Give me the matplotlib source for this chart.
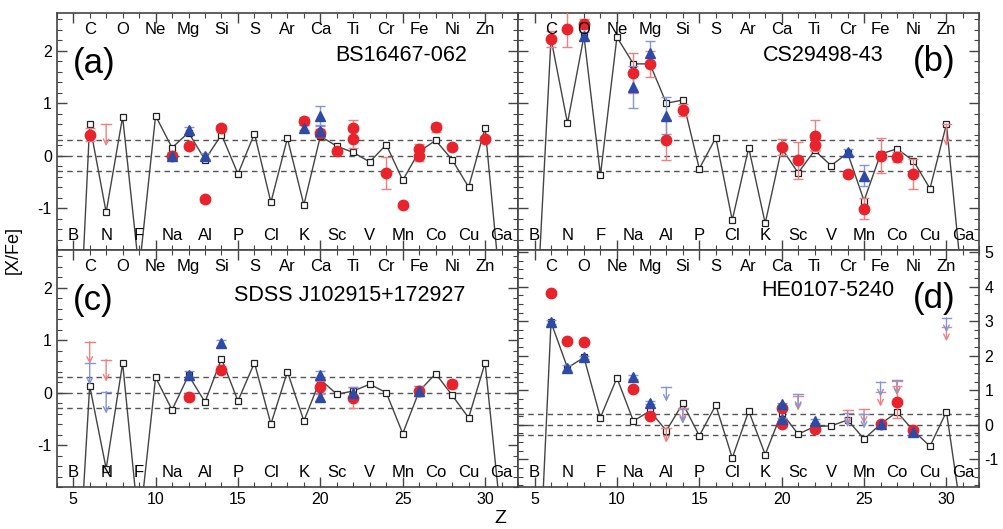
"""
[X/Fe] abundance patterns of four extremely metal-poor stars
compared with a supernova yield model (open squares).
"""

import matplotlib.pyplot as plt
from matplotlib.ticker import MultipleLocator

# ─────────────────────────────────────────────
# DATA
# ─────────────────────────────────────────────

Z = list(range(5, 32))
ELEMENTS = ["B", "C", "N", "O", "F", "Ne", "Na", "Mg", "Al", "Si", "P", "S", "Cl", "Ar",
            "K", "Ca", "Sc", "Ti", "V", "Cr", "Mn", "Fe", "Co", "Ni", "Cu", "Zn", "Ga"]

# model [X/Fe] for Z = 5 .. 31
MODEL_A = [-6.0, 0.60, -1.08, 0.74, -2.2, 0.76, 0.15, 0.44, -0.08, 0.40, -0.35, 0.42, -0.89,
           0.33, -0.94, 0.37, 0.18, 0.06, -0.12, 0.21, -0.47, 0.08, 0.29, -0.08, -0.60, 0.53, -2.8]
MODEL_B = [-3.8, 2.23, 0.62, 2.28, -0.37, 2.26, 1.75, 1.75, 1.00, 1.06, -0.25, 0.34, -1.23,
           0.15, -1.29, 0.14, -0.33, 0.10, -0.19, 0.05, -0.86, 0.03, 0.13, -0.10, -0.63, 0.60, -2.6]
MODEL_C = [-5.2, 0.13, -1.45, 0.56, -2.6, 0.29, -0.33, 0.33, -0.18, 0.65, -0.16, 0.57, -0.60,
           0.40, -0.54, 0.25, -0.03, 0.03, 0.16, 0.00, -0.78, 0.03, 0.36, -0.05, -0.48, 0.57, -2.5]
MODEL_D = [-7.3, 2.97, 1.65, 1.95, 0.21, 1.36, 0.11, 0.40, -0.17, 0.62, -0.32, 0.57, -0.96,
           0.40, -0.86, 0.35, -0.27, -0.05, -0.03, 0.14, -0.41, 0.02, 0.37, -0.17, -0.62, 0.38, -2.9]

# observations: (Z, [X/Fe], error)
A_RED = [(6, 0.40, 0.12), (11, 0.00, 0.06), (12, 0.18, 0.05), (13, -0.83, 0.05), (14, 0.52, 0.07),
         (19, 0.66, 0.08), (20, 0.43, 0.08), (21, 0.08, 0.05), (22, 0.52, 0.16), (22, 0.31, 0.16),
         (24, -0.33, 0.30), (25, -0.94, 0.04), (26, 0.12, 0.10), (26, -0.01, 0.10), (27, 0.54, 0.09),
         (28, 0.17, 0.04), (30, 0.32, 0.05)]
A_BLUE = [(11, -0.01, 0.06), (12, 0.48, 0.07), (13, -0.01, 0.06), (19, 0.53, 0.05),
          (20, 0.75, 0.19), (20, 0.47, 0.12)]
A_LIM_RED = [(7, 0.60)]
A_LIM_BLUE = []

B_RED = [(6, 2.23, 0.15), (7, 2.42, 0.35), (8, 2.51, 0.10), (11, 1.57, 0.38), (12, 1.75, 0.25),
         (13, 0.29, 0.38), (14, 0.87, 0.12), (20, 0.16, 0.15), (21, -0.09, 0.35), (22, 0.38, 0.30),
         (22, 0.21, 0.10), (24, -0.35, 0.06), (25, -1.01, 0.20), (26, 0.00, 0.33), (27, -0.03, 0.10),
         (28, -0.35, 0.28)]
B_BLUE = [(8, 2.28, 0.07), (11, 1.30, 0.40), (12, 1.96, 0.23), (13, 0.76, 0.35),
          (24, 0.07, 0.05), (25, -0.38, 0.20)]
B_LIM_RED = [(30, 0.60)]
B_LIM_BLUE = []

C_RED = [(12, -0.08, 0.07), (14, 0.44, 0.07), (20, 0.10, 0.12), (22, -0.10, 0.20),
         (26, 0.03, 0.10), (28, 0.17, 0.08)]
C_BLUE = [(12, 0.33, 0.08), (14, 0.94, 0.07), (20, 0.33, 0.08), (20, -0.08, 0.08),
          (22, 0.00, 0.10), (26, 0.03, 0.10)]
C_LIM_RED = [(6, 0.97), (7, 0.63)]
C_LIM_BLUE = [(6, 0.57), (7, 0.02)]

D_RED = [(6, 3.82, 0.05), (7, 2.43, 0.05), (8, 2.39, 0.05), (11, 1.05, 0.05), (12, 0.26, 0.05),
         (20, 0.50, 0.05), (20, 0.02, 0.05), (22, -0.12, 0.05), (26, 0.02, 0.05),
         (27, 0.66, 0.47), (28, -0.14, 0.05)]
D_BLUE = [(6, 2.97, 0.05), (7, 1.65, 0.08), (8, 1.95, 0.05), (11, 1.39, 0.05), (12, 0.64, 0.05),
          (20, 0.59, 0.05), (20, 0.16, 0.05), (22, 0.11, 0.05), (26, 0.02, 0.05), (28, -0.22, 0.05)]
D_LIM_RED = [(13, -0.10), (14, 0.50), (21, 0.83), (24, 0.42), (25, 0.45), (26, 0.95), (27, 1.27), (30, 2.84)]
D_LIM_BLUE = [(13, 1.09), (14, 0.45), (21, 0.88), (24, 0.35), (25, 0.31), (26, 1.24), (27, 1.29), (30, 3.10)]

STARS = ["BS16467-062", "CS29498-43", "SDSS J102915+172927", "HE0107-5240"]
PANEL_TAGS = ["(a)", "(b)", "(c)", "(d)"]

# ─────────────────────────────────────────────
# STYLE
# ─────────────────────────────────────────────

RED = "#e8232b"
BLUE = "#2d4ba6"
RED_LIGHT = "#f07f7f"
BLUE_LIGHT = "#8594d4"
FRAME = "#444444"
LIMIT_LEN = 0.42

plt.rcParams["font.family"] = ["Liberation Sans", "DejaVu Sans"]
plt.rcParams["axes.unicode_minus"] = False


def draw_points(ax, pts, color, ecolor, marker, ms):
    if not pts:
        return
    zs = [p[0] for p in pts]
    ys = [p[1] for p in pts]
    es = [p[2] for p in pts]
    ax.errorbar(zs, ys, yerr=es, fmt="none", ecolor=ecolor, elinewidth=1,
                capsize=3.5, capthick=1, zorder=4)
    ax.plot(zs, ys, linestyle="none", marker=marker, ms=ms, color=color,
            markeredgecolor=color, zorder=5)


def draw_limits(ax, lims, color):
    for z, v in lims:
        ax.plot([z - 0.3, z + 0.3], [v, v], color=color, lw=1, zorder=4)
        ax.annotate("", xy=(z, v - LIMIT_LEN), xytext=(z, v),
                    arrowprops=dict(arrowstyle="->", color=color, lw=1,
                                    shrinkA=0, shrinkB=0, mutation_scale=10),
                    zorder=4)


# ─────────────────────────────────────────────
# FIGURE
# ─────────────────────────────────────────────

fig = plt.figure(figsize=(10.04, 5.29), dpi=100)

L, W = 0.0565, 0.4595
B0, H = 0.0794, 0.448
positions = [(L, B0 + H, W, H), (L + W, B0 + H, W, H),
             (L, B0, W, H), (L + W, B0, W, H)]

models = [MODEL_A, MODEL_B, MODEL_C, MODEL_D]
reds = [A_RED, B_RED, C_RED, D_RED]
blues = [A_BLUE, B_BLUE, C_BLUE, D_BLUE]
lim_reds = [A_LIM_RED, B_LIM_RED, C_LIM_RED, D_LIM_RED]
lim_blues = [A_LIM_BLUE, B_LIM_BLUE, C_LIM_BLUE, D_LIM_BLUE]

for i, pos in enumerate(positions):
    ax = fig.add_axes(pos)
    ax.set_xlim(4, 32)
    if i == 3:
        ax.set_ylim(-1.8, 5.06)
        ax.yaxis.set_major_locator(MultipleLocator(1))
        ax.yaxis.set_minor_locator(MultipleLocator(0.25))
    else:
        ax.set_ylim(-1.8, 2.72)
        ax.yaxis.set_major_locator(MultipleLocator(1))
        ax.yaxis.set_minor_locator(MultipleLocator(0.2))
    ax.xaxis.set_major_locator(MultipleLocator(5))
    ax.xaxis.set_minor_locator(MultipleLocator(1))

    ax.tick_params(which="both", direction="in", top=True, right=True,
                   color=FRAME, labelsize=11.5)
    ax.tick_params(which="major", length=7, width=1)
    ax.tick_params(which="minor", length=3.5, width=0.8)
    for sp in ax.spines.values():
        sp.set_color(FRAME)
        sp.set_linewidth(1.2)

    if i < 2:
        ax.tick_params(labelbottom=False)
    if i == 1:
        ax.tick_params(labelleft=False)
    if i == 3:
        ax.tick_params(labelleft=False, labelright=True)

    # reference lines
    for yl in (-0.3, 0.0, 0.3):
        ax.axhline(yl, color="#555555", lw=1, ls=(0, (4, 3)), zorder=1)

    # model
    ax.plot(Z, models[i], color="#444444", lw=1, marker="s", ms=4.5,
            markerfacecolor="white", markeredgecolor="#222222",
            markeredgewidth=0.9, zorder=3)

    # observations
    draw_limits(ax, lim_reds[i], RED_LIGHT)
    draw_limits(ax, lim_blues[i], BLUE_LIGHT)
    draw_points(ax, reds[i], RED, RED_LIGHT, "o", 7.5)
    draw_points(ax, blues[i], BLUE, BLUE_LIGHT, "^", 7.5)

    # element names: even Z on top, odd Z on bottom
    tr = ax.get_xaxis_transform()
    for z, el in zip(Z, ELEMENTS):
        ax.text(z, 0.93 if z % 2 == 0 else 0.06, el, transform=tr,
                ha="center", va="center", fontsize=12, zorder=6)

    # panel tag and star name
    if i in (0, 2):
        ax.text(0.035, 0.785, PANEL_TAGS[i], transform=ax.transAxes,
                ha="left", va="center", fontsize=25)
    else:
        ax.text(0.949, 0.795, PANEL_TAGS[i], transform=ax.transAxes,
                ha="right", va="center", fontsize=25)
    name_x = {0: 0.889, 1: 0.793, 2: 0.886, 3: 0.816}[i]
    name_y = {0: 0.82, 1: 0.82, 2: 0.81, 3: 0.83}[i]
    ax.text(name_x, name_y, STARS[i], transform=ax.transAxes,
            ha="right", va="center", fontsize=15.5)

fig.text(0.013, B0 + H, "[X/Fe]", rotation=90, ha="center", va="center", fontsize=13)
fig.text(0.498, 0.004, "Z", ha="center", va="bottom", fontsize=14)

fig.savefig("out.png", dpi=100)
